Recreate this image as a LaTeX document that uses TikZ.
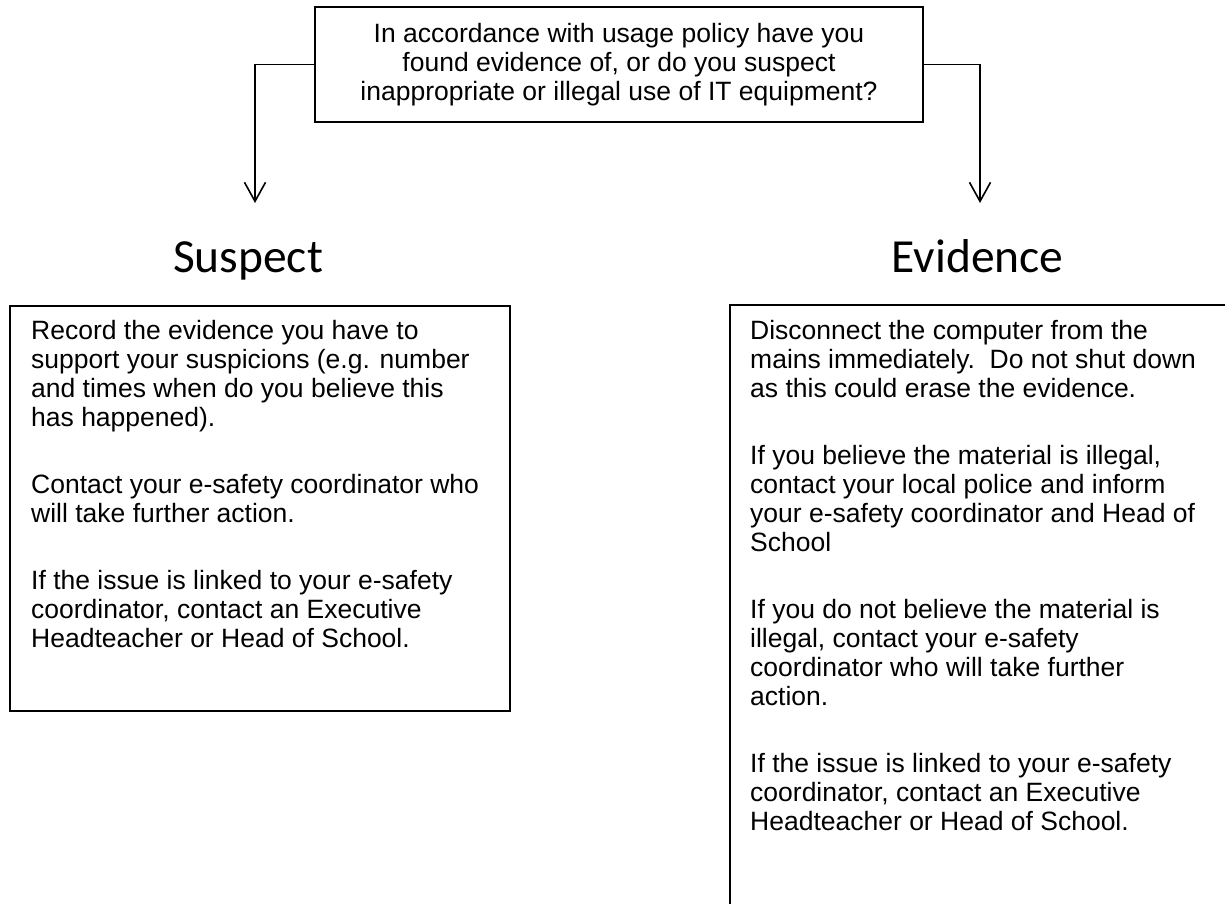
\documentclass[tikz,border=0pt]{standalone}
\usepackage{fontspec}
\setmainfont{Liberation Sans}
\newfontfamily\headfont{Carlito}
\usetikzlibrary{arrows.meta}
\newcommand\bodyfont{\fontsize{26.5pt}{29pt}\selectfont}
\newcommand\headsize{\headfont\fontsize{47.5pt}{52pt}\selectfont}
\begin{document}
\begin{tikzpicture}[x=1pt,y=-1pt,
  boxline/.style={draw=black,line width=1.6pt,inner sep=0pt},
  bodytext/.style={inner sep=0pt,anchor=base west},
  heading/.style={inner sep=0pt,anchor=base,font=\headsize},
  conn/.style={draw=black,line width=1.6pt,-{Straight Barb[length=19pt,width=21pt,line width=1.6pt]}}]
\useasboundingbox (0,0) rectangle (1225,904);
\fill[white] (0,0) rectangle (1225,904);
\clip (0,0) rectangle (1225,904);
% question box
\node[boxline,minimum width=608pt,minimum height=115pt] (q) at (619,64.5) {};
\node[inner sep=0pt,anchor=base] (qtext) at (619,43)
  {\parbox[t]{590pt}{\bodyfont\centering In accordance with usage policy have you\\
   found evidence of, or do you suspect\\
   inappropriate or illegal use of IT equipment?}};
% connectors
\coordinate (sa) at (255,203);
\coordinate (ea) at (980,203);
\draw[conn] (q.west) -| (sa);
\draw[conn] (q.east) -| (ea);
% headings
\node[heading] (suspect) at (248,272) {Suspect};
\node[heading] (evidence) at (977.5,272) {Evidence};
% suspect box
\node[boxline,minimum width=500pt,minimum height=405pt,anchor=north west] (sbox) at (9,305) {};
\node[bodytext] (stext) at (31,339)
  {\parbox[t]{470pt}{\bodyfont\raggedright\setlength\parindent{0pt}\setlength\parskip{38pt}%
   Record the evidence you have to\\
   support your suspicions (e.g. number\\
   and times when do you believe this\\
   has happened).\par
   Contact your e-safety coordinator who\\
   will take further action.\par
   If the issue is linked to your e-safety\\
   coordinator, contact an Executive\\
   Headteacher or Head of School.}};
% evidence box (runs past the page edge)
\node[boxline,minimum width=540pt,minimum height=640pt,anchor=north west] (ebox) at (729,304) {};
\node[bodytext] (etext) at (750,339)
  {\parbox[t]{470pt}{\bodyfont\raggedright\setlength\parindent{0pt}\setlength\parskip{38pt}%
   Disconnect the computer from the\\
   mains immediately.\ \ Do not shut down\\
   as this could erase the evidence.\par
   If you believe the material is illegal,\\
   contact your local police and inform\\
   your e-safety coordinator and Head of\\
   School\par
   If you do not believe the material is\\
   illegal, contact your e-safety\\
   coordinator who will take further\\
   action.\par
   If the issue is linked to your e-safety\\
   coordinator, contact an Executive\\
   Headteacher or Head of School.}};
\end{tikzpicture}
\end{document}
